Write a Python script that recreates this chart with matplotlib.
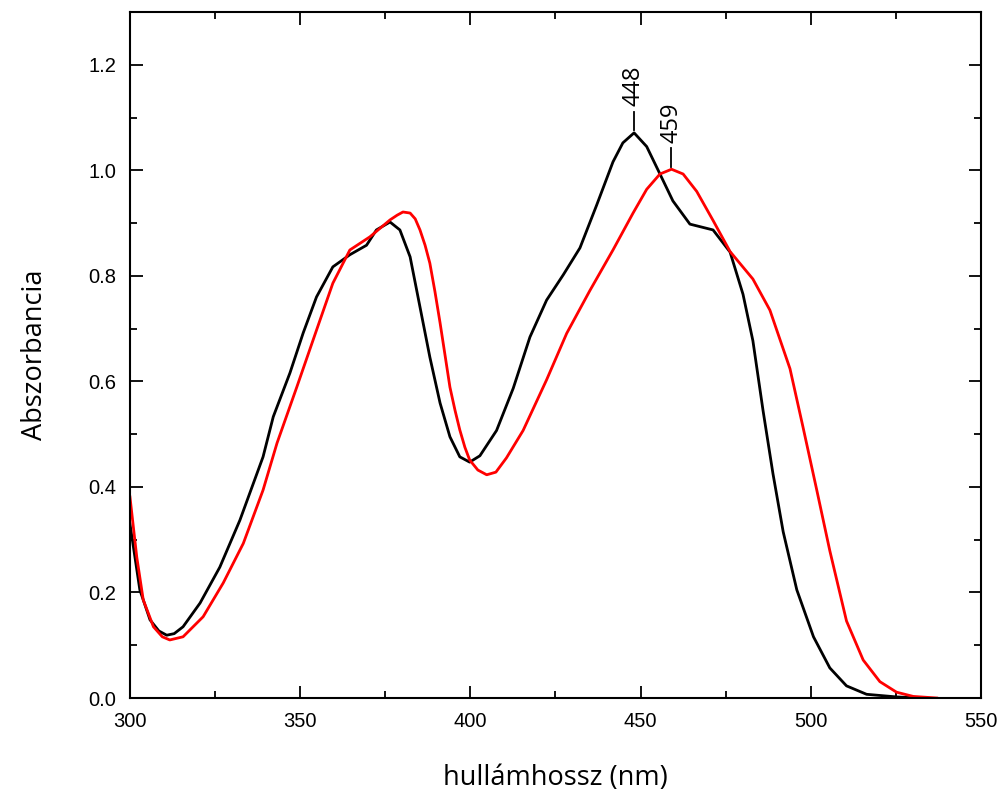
import matplotlib
matplotlib.use("Agg")
import matplotlib.pyplot as plt
from matplotlib.ticker import MultipleLocator

# black spectrum
wl_black = [300, 302.9, 305.9, 308.5, 310.8, 313, 315.6, 320.6, 326.4, 332.3, 339.1, 342.1,
            347, 350.9, 354.8, 359.6, 364.6, 369.5, 372.4, 376.4, 379.3, 382.3, 385.2,
            388.1, 391.1, 394, 396.9, 399.8, 402.8, 407.7, 412.6, 417.5, 422.4, 427.3,
            432.2, 437.1, 441.9, 444.8, 448.1, 451.8, 455.7, 459.5, 464.5, 471.3, 476.3,
            480.1, 483, 486, 488.9, 491.9, 495.9, 500.8, 505.6, 510.5, 516.4, 525.3, 532]
abs_black = [0.33, 0.205, 0.148, 0.127, 0.119, 0.122, 0.135, 0.18, 0.248, 0.337, 0.457, 0.533,
             0.616, 0.692, 0.76, 0.817, 0.84, 0.858, 0.887, 0.902, 0.887, 0.836, 0.741,
             0.646, 0.559, 0.495, 0.457, 0.447, 0.459, 0.507, 0.587, 0.684, 0.754, 0.802,
             0.853, 0.934, 1.016, 1.052, 1.071, 1.045, 0.993, 0.942, 0.898, 0.887, 0.845,
             0.765, 0.677, 0.544, 0.425, 0.315, 0.205, 0.116, 0.057, 0.023, 0.007, 0.002, 0.0]

# red spectrum
wl_red = [300, 302, 303.9, 306.9, 309.5, 311.7, 315.6, 321.5, 327.4, 333.3, 339.1, 343.2,
          349, 354.8, 359.6, 364.6, 370.5, 376.4, 378.5, 380.2, 382.3, 383.8, 385.2, 386.7,
          388.1, 389.6, 391.1, 392.6, 394, 395.5, 396.9, 398.4, 399.8, 402.2, 404.8, 407.5,
          410.6, 415.5, 422.4, 428.3, 435.1, 441.9, 447.8, 451.8, 455.7, 459.1, 462.5,
          466.5, 471.3, 476.3, 483, 488, 493.9, 497.7, 501.7, 505.6, 510.5, 515.4, 520.3,
          525.2, 530.1, 537]
abs_red = [0.381, 0.267, 0.186, 0.135, 0.116, 0.11, 0.116, 0.154, 0.218, 0.293, 0.394, 0.483,
           0.589, 0.697, 0.786, 0.849, 0.874, 0.906, 0.915, 0.921, 0.919, 0.908, 0.887, 0.858,
           0.824, 0.77, 0.711, 0.648, 0.589, 0.545, 0.508, 0.475, 0.451, 0.432, 0.423, 0.428,
           0.455, 0.507, 0.603, 0.691, 0.772, 0.849, 0.919, 0.964, 0.993, 1.002, 0.993,
           0.96, 0.905, 0.846, 0.794, 0.735, 0.624, 0.514, 0.396, 0.279, 0.146, 0.072, 0.031,
           0.011, 0.003, 0.0]

peaks = [448, 459]
peak_heights = [1.071, 1.002]

fig = plt.figure(figsize=(10.02, 8.0), dpi=100)
ax = fig.add_axes([0.1297, 0.1275, 0.8493, 0.8575])

ax.plot(wl_black, abs_black, color='black', lw=2.0)
ax.plot(wl_red, abs_red, color='#ff0000', lw=2.0)

for p, h in zip(peaks, peak_heights):
    ax.plot([p, p], [h + 0.005, h + 0.04], color='black', lw=1.3)
    ax.text(p, h + 0.05, str(p), rotation=90, ha='center', va='bottom',
            fontsize=17, family='Open Sans')

ax.set_xlim(300, 550)
ax.set_ylim(0, 1.3)
ax.xaxis.set_major_locator(MultipleLocator(50))
ax.xaxis.set_minor_locator(MultipleLocator(25))
ax.yaxis.set_major_locator(MultipleLocator(0.2))
ax.yaxis.set_minor_locator(MultipleLocator(0.1))
ax.yaxis.set_major_formatter(matplotlib.ticker.FormatStrFormatter('%.1f'))

ax.tick_params(which='both', direction='in', top=True, right=True, width=1.3)
ax.tick_params(which='major', length=9, labelsize=14.5, pad=10)
ax.tick_params(which='minor', length=5)
for lab in ax.get_xticklabels() + ax.get_yticklabels():
    lab.set_family('Liberation Sans')
for s in ax.spines.values():
    s.set_linewidth(1.5)

ax.set_xlabel('hullámhossz (nm)', fontsize=19.5, family='Open Sans', labelpad=24)
ax.set_ylabel('Abszorbancia', fontsize=19.5, family='Open Sans', labelpad=28)

fig.savefig('out.png', dpi=100)
